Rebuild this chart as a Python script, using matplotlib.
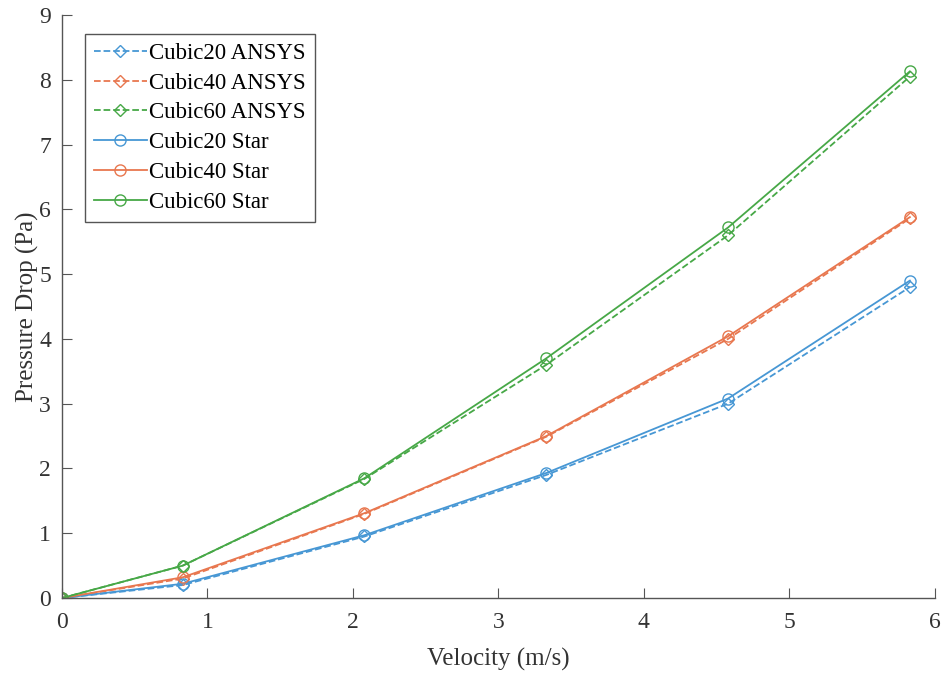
import matplotlib
matplotlib.use('Agg')
import matplotlib.pyplot as plt

plt.rcParams['font.family'] = ['Liberation Serif', 'DejaVu Serif']

velocity = [0, 0.83, 2.08, 3.33, 4.58, 5.83]

cubic20_ansys = [0, 0.20, 0.95, 1.90, 3.00, 4.80]
cubic40_ansys = [0, 0.30, 1.30, 2.49, 4.00, 5.86]
cubic60_ansys = [0, 0.50, 1.84, 3.60, 5.60, 8.05]
cubic20_star = [0, 0.22, 0.97, 1.93, 3.08, 4.90]
cubic40_star = [0, 0.32, 1.31, 2.50, 4.04, 5.88]
cubic60_star = [0, 0.50, 1.85, 3.70, 5.72, 8.13]

blue = '#4797d4'
orange = '#e8774f'
green = '#47a847'

fig = plt.figure(figsize=(9.45, 6.73), dpi=100)
ax = fig.add_axes([0.0656, 0.1114, 0.9234, 0.8663])

ax.plot(velocity, cubic20_ansys, '--D', color=blue, mfc='none', ms=6, lw=1.3, label='Cubic20 ANSYS')
ax.plot(velocity, cubic40_ansys, '--D', color=orange, mfc='none', ms=6, lw=1.3, label='Cubic40 ANSYS')
ax.plot(velocity, cubic60_ansys, '--D', color=green, mfc='none', ms=6, lw=1.3, label='Cubic60 ANSYS')
ax.plot(velocity, cubic20_star, '-o', color=blue, mfc='none', ms=8, lw=1.3, label='Cubic20 Star')
ax.plot(velocity, cubic40_star, '-o', color=orange, mfc='none', ms=8, lw=1.3, label='Cubic40 Star')
ax.plot(velocity, cubic60_star, '-o', color=green, mfc='none', ms=8, lw=1.3, label='Cubic60 Star')

ax.set_xlim(0, 6)
ax.set_ylim(0, 9)
ax.set_xticks(range(0, 7))
ax.set_yticks(range(0, 10))
ax.spines['top'].set_visible(False)
ax.spines['right'].set_visible(False)
for s in ('left', 'bottom'):
    ax.spines[s].set_color('#555555')
    ax.spines[s].set_linewidth(1.0)
ax.tick_params(direction='in', length=7, colors='#555555', labelcolor='#333333', labelsize=17)
ax.tick_params(axis='x', pad=10)
ax.tick_params(axis='y', pad=8)

ax.set_xlabel('Velocity (m/s)', fontsize=18, color='#333333', labelpad=11)
ax.set_ylabel('Pressure Drop (Pa)', fontsize=18, color='#333333', labelpad=0)

leg = ax.legend(loc='upper left', bbox_to_anchor=(0.026, 0.968), fontsize=16.5, handlelength=2.3,
                handletextpad=0.1, borderpad=0.4, labelspacing=0.38, fancybox=False, framealpha=1,
                borderaxespad=0)
leg.get_frame().set_edgecolor('#555555')
leg.get_frame().set_linewidth(1.0)

fig.savefig('out.png', dpi=100)
